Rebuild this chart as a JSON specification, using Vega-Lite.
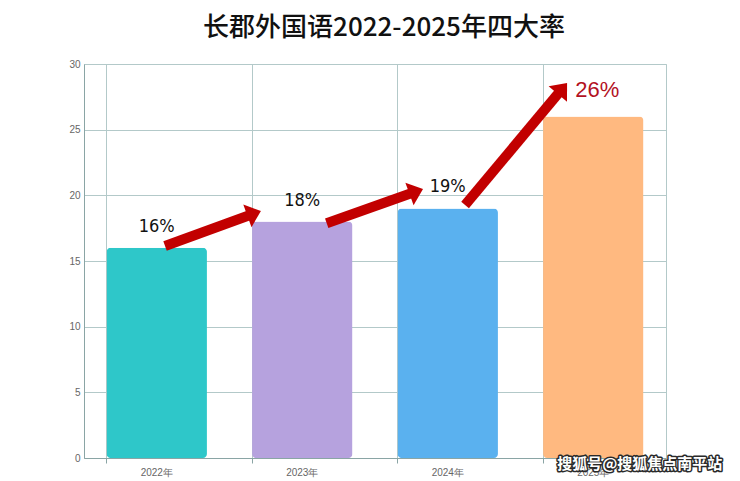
{
  "$schema": "https://vega.github.io/schema/vega-lite/v6.json",
  "autosize": "none",
  "width": 582,
  "height": 394,
  "padding": {"left": 84, "top": 64, "right": 74, "bottom": 23},
  "background": "white",
  "title": {
    "text": "长郡外国语2022-2025年四大率",
    "font": "Noto Sans CJK SC",
    "fontSize": 26,
    "fontWeight": 500,
    "color": "#111111",
    "anchor": "middle",
    "dx": 9,
    "offset": 18
  },
  "config": {
    "view": {"stroke": "#b3c9c9"},
    "font": "Liberation Sans"
  },
  "datasets": {
    "bars": [
      {"year": "2022年", "rate": 16, "label": "16%"},
      {"year": "2023年", "rate": 18, "label": "18%"},
      {"year": "2024年", "rate": 19, "label": "19%"},
      {"year": "2025年", "rate": 26, "label": "26%"}
    ],
    "arrows": [
      {"x": 0.557, "y": 16.14, "x2": 1.146, "y2": 18.52, "tx": 1.216, "ty": 18.81, "angle": 340},
      {"x": 1.668, "y": 17.87, "x2": 2.258, "y2": 20.2, "tx": 2.33, "ty": 20.48, "angle": 340},
      {"x": 2.619, "y": 19.26, "x2": 3.271, "y2": 27.91, "tx": 3.32, "ty": 28.55, "angle": 310}
    ],
    "mark": [
      {"x": 3.82, "y": -0.46, "text": "搜狐号@搜狐焦点南平站"}
    ]
  },
  "layer": [
    {
      "layer": [
        {
          "data": {"name": "bars"},
          "mark": {"type": "bar", "cornerRadius": 4},
          "encoding": {
            "x": {
              "field": "year",
              "type": "nominal",
              "sort": null,
              "scale": {"paddingInner": 0.31, "paddingOuter": 0.155},
              "axis": {
                "title": null,
                "labelAngle": 0,
                "labelColor": "#666666",
                "labelFontSize": 10,
                "labelPadding": 4,
                "bandPosition": 0,
                "grid": true,
                "gridColor": "#b3c9c9",
                "gridOpacity": 1,
                "domainColor": "#8aa5a5",
                "tickColor": "#8aa5a5",
                "tickSize": 5
              }
            },
            "y": {
              "field": "rate",
              "type": "quantitative",
              "scale": {"domain": [0, 30]},
              "axis": {
                "title": null,
                "values": [0, 5, 10, 15, 20, 25, 30],
                "labelColor": "#666666",
                "labelFontSize": 10,
                "labelPadding": 4,
                "ticks": false,
                "grid": true,
                "gridColor": "#b3c9c9",
                "gridOpacity": 1,
                "domainColor": "#8aa5a5"
              }
            },
            "color": {
              "field": "year",
              "type": "nominal",
              "scale": {
                "domain": ["2022年", "2023年", "2024年", "2025年"],
                "range": ["#2ec7c9", "#b6a2de", "#5ab1ef", "#ffb980"]
              },
              "legend": null
            }
          }
        },
        {
          "data": {"name": "bars"},
          "transform": [{"filter": "datum.rate < 20"}],
          "mark": {
            "type": "text",
            "font": "Liberation Sans Narrow, DejaVu Sans Condensed, sans-serif",
            "fontSize": 18,
            "color": "#111111",
            "baseline": "middle",
            "dy": -21
          },
          "encoding": {
            "x": {"field": "year", "type": "nominal", "sort": null},
            "y": {"field": "rate", "type": "quantitative"},
            "text": {"field": "label"}
          }
        },
        {
          "data": {"name": "bars"},
          "transform": [{"filter": "datum.rate >= 20"}],
          "mark": {
            "type": "text",
            "fontSize": 22,
            "color": "#b3121f",
            "baseline": "middle",
            "dx": 4,
            "dy": -27
          },
          "encoding": {
            "x": {"field": "year", "type": "nominal", "sort": null},
            "y": {"field": "rate", "type": "quantitative"},
            "text": {"field": "label"}
          }
        }
      ]
    },
    {
      "layer": [
        {
          "data": {"name": "arrows"},
          "mark": {"type": "rule", "color": "#c20000", "strokeWidth": 10, "strokeCap": "butt"},
          "encoding": {
            "x": {"field": "x", "type": "quantitative", "scale": {"domain": [0, 4]}, "axis": null},
            "y": {"field": "y", "type": "quantitative"},
            "x2": {"field": "x2"},
            "y2": {"field": "y2"}
          }
        },
        {
          "data": {"name": "arrows"},
          "mark": {
            "type": "point",
            "shape": "M 0 0 L -1.2 -1 L -1.2 1 Z",
            "size": 576,
            "filled": true,
            "color": "#c20000",
            "opacity": 1
          },
          "encoding": {
            "x": {"field": "tx", "type": "quantitative"},
            "y": {"field": "ty", "type": "quantitative"},
            "angle": {"field": "angle", "type": "quantitative", "scale": null}
          }
        },
        {
          "data": {"name": "mark"},
          "mark": {
            "type": "text",
            "font": "Noto Sans CJK SC",
            "fontSize": 15,
            "fontWeight": "bold",
            "stroke": "#2a2a2a",
            "strokeWidth": 3,
            "strokeJoin": "round",
            "baseline": "middle"
          },
          "encoding": {
            "x": {"field": "x", "type": "quantitative"},
            "y": {"field": "y", "type": "quantitative"},
            "text": {"field": "text"}
          }
        },
        {
          "data": {"name": "mark"},
          "mark": {
            "type": "text",
            "font": "Noto Sans CJK SC",
            "fontSize": 15,
            "fontWeight": "bold",
            "color": "#ffffff",
            "baseline": "middle"
          },
          "encoding": {
            "x": {"field": "x", "type": "quantitative"},
            "y": {"field": "y", "type": "quantitative"},
            "text": {"field": "text"}
          }
        }
      ]
    }
  ],
  "resolve": {"scale": {"x": "independent"}}
}
